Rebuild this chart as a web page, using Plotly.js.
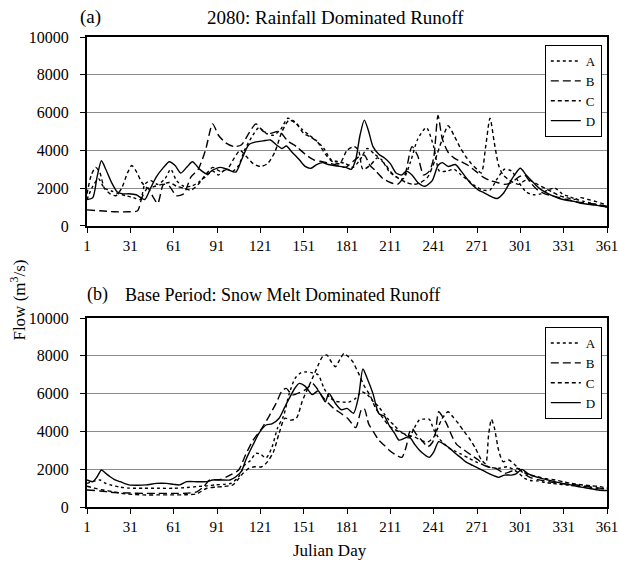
<!DOCTYPE html>
<html>
<head>
<meta charset="utf-8">
<script src="https://cdn.plot.ly/plotly-3.0.1.min.js"></script>
<style>html,body{margin:0;padding:0;background:#fff;}#chart{width:619px;height:569px;}</style>
</head>
<body>
<div id="chart"></div>
<script>
// ---------- Panel (a): 2080 rainfall dominated runoff ----------
const aA_day = [1,5,9,13,18,23,28,33,38,41,45,50,55,59,63,68,73,78,83,88,92,97,102,106,110,115,120,125,130,135,140,145,150,155,160,165,170,175,180,185,190,195,200,205,210,215,220,225,230,236,241,245,250,255,260,265,270,275,280,285,290,295,300,305,310,315,320,325,330,335,340,345,350,355,361];
const aA_flow = [1400,2100,2500,2000,1850,1700,1600,1500,1400,2200,2400,2200,2500,3000,2400,2100,2100,2300,2600,2900,2700,3000,2900,3200,4000,4700,5200,4900,4800,5100,5700,5500,5100,4800,4500,4100,3500,3400,3300,3100,3500,4100,3800,3500,2900,2600,2500,3400,4600,5200,4200,2900,2900,3000,2700,2400,2100,1900,1900,2500,3000,2900,2300,1800,1650,1700,1900,2000,1700,1550,1400,1300,1200,1100,1000];

const aB_day = [1,10,20,30,36,39,43,47,50,54,58,63,68,73,78,83,88,92,97,103,108,113,118,123,128,134,140,146,152,158,164,170,175,180,185,190,193,197,201,206,211,216,221,226,230,234,238,241,244,247,251,255,260,265,270,275,280,285,290,295,300,304,308,313,318,323,328,333,338,343,348,353,361];
const aB_flow = [850,800,750,750,800,1500,2000,1500,1200,2200,2100,1600,1700,2600,3000,4000,5400,4800,4400,4200,4300,4900,5400,5000,4900,5000,4500,4200,3800,3500,3400,3300,3200,3100,3400,3700,3750,3200,2900,2500,2300,2200,2700,4200,3700,2700,2900,3600,5850,4600,3900,3600,3400,3200,2900,2600,2400,2300,2200,2300,2600,2700,2300,1900,1700,1600,1500,1400,1300,1250,1200,1150,1050];

const aC_day = [1,4,7,10,13,17,21,25,29,32,35,39,43,48,53,58,63,68,73,78,83,88,93,98,103,107,111,116,121,126,131,136,141,146,151,156,161,166,171,176,181,186,189,192,197,202,207,212,217,222,227,232,237,242,247,251,255,259,263,267,271,274,277,280,283,286,289,292,296,300,304,308,313,318,323,328,333,338,343,348,353,361];
const aC_flow = [1700,2700,3100,2800,2000,1700,1600,2000,2800,3200,2900,2300,2000,2100,2200,2300,2100,2000,1900,2200,2700,3100,2900,3000,3600,4000,3700,3300,3150,3300,3900,5000,5600,5400,4900,4700,4400,3800,3400,3300,4000,4200,4000,3000,3200,3600,3300,2800,2500,2300,2200,2300,2600,3500,4600,5300,4800,4200,3700,3300,3000,2800,4200,5700,4400,3200,2700,2500,2300,2200,2400,2400,2200,2000,1800,1600,1500,1400,1500,1400,1300,1100];

const aD_day = [1,5,8,11,14,18,22,26,30,35,41,45,49,54,58,62,66,70,74,79,84,88,93,98,104,108,113,118,123,128,132,136,139,143,148,152,156,160,164,168,172,176,180,184,187,190,193,196,199,203,207,211,215,219,222,226,230,235,240,244,247,251,256,260,264,268,272,276,281,285,289,293,297,301,305,310,314,318,323,328,333,338,343,348,353,361];
const aD_flow = [1400,1500,2600,3450,3000,2300,1800,1700,1700,1650,1400,2000,2600,3100,3400,3200,2800,3100,3400,3000,2750,2950,3100,3000,2850,3500,4300,4450,4500,4550,4300,4100,4230,3900,3500,3150,3050,3250,3350,3250,3200,3150,3100,3000,3500,4800,5600,5000,4200,3800,3600,3300,2800,2700,2900,2700,2300,2100,2400,3200,3350,3150,3250,2900,2500,2150,1900,1750,1550,1450,1700,2200,2700,3050,2700,2300,2000,1800,1600,1450,1350,1300,1200,1150,1100,1000];

// ---------- Panel (b): base period snow melt dominated runoff ----------
const bA_day = [1,5,10,14,18,24,30,40,50,61,70,77,84,90,96,101,106,110,114,118,121,125,129,133,137,141,145,149,153,157,161,165,169,173,178,182,187,191,195,199,203,207,210,214,217,221,224,227,231,234,238,241,245,249,252,256,260,265,270,275,280,286,292,296,300,304,308,313,318,323,328,335,342,350,356,361];
const bA_flow = [1250,1350,1430,1250,1150,1050,1000,990,990,990,1030,1080,1120,1170,1200,1260,1600,2200,2450,2840,2800,2600,3150,4200,4800,6000,6800,7100,7150,7100,7000,6300,5800,5600,5550,5550,5750,6100,5950,5600,5300,4900,4600,4300,4050,3850,3650,4100,4600,4650,4640,4100,3600,3300,3100,2950,2800,2600,2400,2250,2100,2050,2130,2000,1780,1520,1400,1380,1300,1250,1200,1150,1100,1020,980,950];

const bB_day = [1,10,20,30,40,50,61,70,77,82,86,93,100,106,111,116,122,127,132,136,139,143,148,153,157,160,164,168,172,177,182,187,191,193,196,200,203,207,210,214,219,222,224,226,229,233,237,240,242,244.5,247,250,254,257,262,267,272,276,280,284,290,295,299,303,308,313,320,328,335,342,350,356,361];
const bB_flow = [900,850,760,740,720,720,720,730,800,1100,1430,1450,1690,1960,2800,3540,4160,4800,5500,6150,6280,5930,6050,6250,6540,6300,5840,5500,5200,4950,4650,4200,5150,5200,4400,3900,3540,3250,3020,2800,2630,3200,3900,4160,3850,3500,3200,3400,3810,5040,4800,4400,3700,3300,3020,2750,2490,2200,2100,2050,1780,1900,2050,1800,1550,1450,1350,1250,1200,1150,1050,1000,950];

const bC_day = [1,6,12,19,25,30,40,50,61,70,77,84,90,95,102,106,109,113,117,122,126,130,134,138,142,146,150,154,157,161,164,167,170,173,176,179,182,185,189,193,197,201,205,210,214,218,223,228,233,237,241,244,247,251,254,258,262,266,270,274,277,279,281,283,286,289,293,297,302,307,313,319,325,331,336,343,350,356,361];
const bC_flow = [1100,1000,900,810,720,680,640,640,640,650,700,990,1050,1080,1170,1500,1780,2050,2130,2130,2400,2900,3900,4700,4600,4700,5600,6300,6800,7500,7950,8050,7700,7420,7800,8130,7950,7690,7070,6400,5900,5200,4800,4300,4100,3950,3800,3700,3500,3450,3700,4200,4700,5040,4800,4430,4000,3600,3100,2500,2300,3800,4640,4200,3000,2400,2490,2250,1900,1700,1600,1500,1430,1330,1250,1180,1120,1080,1000];

const bD_day = [1,5,8,11,14,17,20,24,30,36,42,49,56,61,65,70,77,84,88,94,100,104,108,111,113,116,120,125,129,134,138,141,145,148,152,157,161,164,166,168.5,173,177,181,185.5,189,192,195,199,203,207,210,214,217,221,224,228,231,235,238,241,244.5,249,253,256,260,263,268,272,276,279,283,286,290,295,298,302,306,313,319,325,330,336,343,349,355,361];
const bD_flow = [1430,1340,1600,1960,1780,1600,1450,1340,1170,1150,1170,1250,1250,1200,1170,1340,1340,1340,1430,1430,1430,1600,1900,2500,2840,3300,3900,4340,4400,4700,5300,5750,6300,6540,6400,5950,6150,5800,5570,6010,5480,5150,5220,4960,5840,7300,6800,6000,4950,4800,4340,3900,3540,3650,3720,3300,3020,2750,2630,2900,3460,3280,3050,2840,2600,2400,2200,2050,1900,1780,1650,1570,1690,1690,1750,1990,1780,1570,1450,1340,1250,1170,1050,980,900,870];

const seriesNames = ['A','B','C','D'];
const dayTicks = [1,31,61,91,121,151,181,211,241,271,301,331,361];
const flowTicks = [0,2000,4000,6000,8000,10000];

const dashes = {A:'dot', B:'8px,4px', C:'4px,3px', D:'solid'};
const FONT = 'Liberation Serif, Times New Roman, serif';

function tr(name, x, y, xa, ya, leg){
  return {x:x, y:y, name:name, type:'scatter', mode:'lines',
    xaxis:xa, yaxis:ya, legend:leg,
    line:{color:'#000', width:1.4, dash:dashes[name], shape:'spline', smoothing:0.7}};
}

const data = [
  tr(seriesNames[0], aA_day, aA_flow, 'x', 'y', 'legend'),
  tr(seriesNames[1], aB_day, aB_flow, 'x', 'y', 'legend'),
  tr(seriesNames[2], aC_day, aC_flow, 'x', 'y', 'legend'),
  tr(seriesNames[3], aD_day, aD_flow, 'x', 'y', 'legend'),
  tr(seriesNames[0], bA_day, bA_flow, 'x2', 'y2', 'legend2'),
  tr(seriesNames[1], bB_day, bB_flow, 'x2', 'y2', 'legend2'),
  tr(seriesNames[2], bC_day, bC_flow, 'x2', 'y2', 'legend2'),
  tr(seriesNames[3], bD_day, bD_flow, 'x2', 'y2', 'legend2')
];

function xAxis(anchor){
  return {anchor:anchor, domain:[0,1], range:[1,361], tickmode:'array', tickvals:dayTicks,
    ticktext:dayTicks.map(String), ticks:'outside', ticklen:5, tickcolor:'#000', tickwidth:1,
    showline:true, linecolor:'#000', linewidth:2, mirror:true, showgrid:false, zeroline:false,
    tickfont:{family:FONT, size:15, color:'#000'}};
}
function yAxis(anchor, dom){
  return {anchor:anchor, domain:dom, range:[0,10000], tickmode:'array', tickvals:flowTicks,
    ticktext:flowTicks.map(String), ticks:'outside', ticklen:5, tickcolor:'#000', tickwidth:1,
    showline:true, linecolor:'#000', linewidth:2, mirror:true, showgrid:true, gridcolor:'#8c8c8c',
    gridwidth:1, zeroline:false, ticklabelstandoff:8,
    tickfont:{family:FONT, size:16, color:'#000'}};
}
function legendBox(y){
  return {x:0.99, xanchor:'right', y:y, yanchor:'top', bgcolor:'#fff', bordercolor:'#000',
    borderwidth:1, itemwidth:30, tracegroupgap:0, font:{family:FONT, size:13, color:'#000'}};
}

const layout = {
  width:619, height:569,
  margin:{l:87, r:12, t:37, b:62},
  paper_bgcolor:'#fff', plot_bgcolor:'#fff',
  font:{family:FONT, color:'#000'},
  showlegend:true,
  xaxis:xAxis('y'), yaxis:yAxis('x', [0.598,1]),
  xaxis2:xAxis('y2'), yaxis2:yAxis('x2', [0,0.402]),
  legend:legendBox(0.983), legend2:legendBox(0.383),
  annotations:[
    {text:'(a)', xref:'paper', yref:'paper', x:0.006, y:1.042, xanchor:'center', yanchor:'middle', showarrow:false, font:{family:FONT, size:19}},
    {text:'2080: Rainfall Dominated Runoff', xref:'paper', yref:'paper', x:0.477, y:1.042, xanchor:'center', yanchor:'middle', showarrow:false, font:{family:FONT, size:19}},
    {text:'(b)', xref:'paper', yref:'paper', x:0.021, y:0.452, xanchor:'center', yanchor:'middle', showarrow:false, font:{family:FONT, size:18}},
    {text:'Base Period: Snow Melt Dominated Runoff', xref:'paper', yref:'paper', x:0.376, y:0.452, xanchor:'center', yanchor:'middle', showarrow:false, font:{family:FONT, size:18}},
    {text:'Flow (m<sup>3</sup>/s)', xref:'paper', yref:'paper', x:-0.132, y:0.44, textangle:-90, xanchor:'center', yanchor:'middle', showarrow:false, font:{family:FONT, size:17}},
    {text:'Julian Day', xref:'paper', yref:'paper', x:0.468, y:-0.092, xanchor:'center', yanchor:'middle', showarrow:false, font:{family:FONT, size:17}}
  ]
};

Plotly.newPlot('chart', data, layout, {staticPlot:true, displayModeBar:false});
</script>
</body>
</html>
